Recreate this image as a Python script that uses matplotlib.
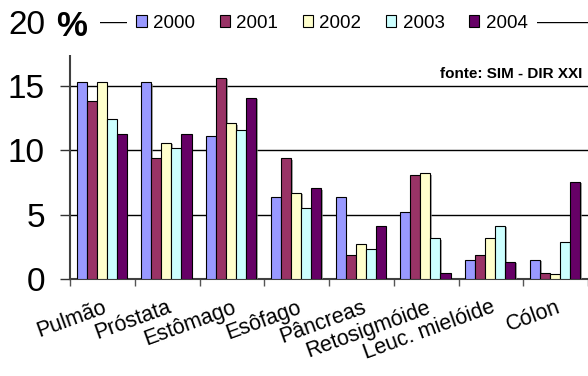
import numpy as np
import matplotlib.pyplot as plt
import matplotlib.patheffects as pe
from matplotlib.patches import Patch, Rectangle

plt.rcParams['font.family'] = ['Liberation Sans', 'DejaVu Sans']

# Cancer incidence share (%) per site and year
sites = ['Pulmão', 'Próstata', 'Estômago', 'Esôfago', 'Pâncreas',
         'Retosigmóide', 'Leuc. mielóide', 'Cólon']
years = ['2000', '2001', '2002', '2003', '2004']

v2000 = [15.3, 15.3, 11.1, 6.4, 6.4, 5.2, 1.5, 1.5]
v2001 = [13.8, 9.4, 15.65, 9.4, 1.85, 8.05, 1.85, 0.5]
v2002 = [15.3, 10.6, 12.1, 6.7, 2.7, 8.2, 3.15, 0.35]
v2003 = [12.4, 10.2, 11.6, 5.55, 2.3, 3.15, 4.15, 2.85]
v2004 = [11.25, 11.25, 14.1, 7.05, 4.15, 0.5, 1.35, 7.55]

colors = ['#9999FF', '#993366', '#FFFFCC', '#CCFFFF', '#660066']
series = [v2000, v2001, v2002, v2003, v2004]

fig = plt.figure(figsize=(5.88, 3.76), dpi=100)
ax = fig.add_axes([70 / 588, 97 / 376, 518 / 588, 257.4 / 376])

x = np.arange(len(sites))
w = 0.1546
shadow = [pe.SimplePatchShadow(offset=(1.2, -1.2), shadow_rgbFace='#808080', alpha=0.7),
          pe.Normal()]
for k, (vals, col) in enumerate(zip(series, colors)):
    bars = ax.bar(x + (k - 2) * w - 0.01, vals, width=w, color=col,
                  edgecolor='black', linewidth=0.8, zorder=3)
    for b in bars:
        b.set_path_effects(shadow)

ax.set_xlim(-0.5, len(sites) - 0.5)
ax.set_ylim(0, 20)
ax.set_yticks([0, 5, 10, 15, 20])
ax.set_yticklabels(['0', '5', '10', '15', '20'])
ax.tick_params(axis='y', direction='out', length=7, width=1, pad=11,
               labelsize=24, color='#333333')
ax.yaxis.grid(True, color='black', linewidth=1, zorder=0)

ax.set_xticks(x)
ax.set_xticklabels(sites, rotation=20, ha='right', rotation_mode='anchor')
ax.tick_params(axis='x', which='major', length=0, pad=13, labelsize=15.5)
ax.set_xticks(np.arange(-0.5, len(sites)), minor=True)
ax.tick_params(axis='x', which='minor', direction='out', length=5, width=1,
               color='#555555')

for s in ['top', 'right']:
    ax.spines[s].set_visible(False)
for s in ['left', 'bottom']:
    ax.spines[s].set_color('#404040')
    ax.spines[s].set_linewidth(1.5)

# white block behind the axis title hides the top of the spine
fig.add_artist(Rectangle((48 / 588, 1 - 55 / 376), 52 / 588, 55 / 376,
                         transform=fig.transFigure, facecolor='white',
                         edgecolor='none', zorder=5))
fig.text(72 / 588, 1 - 27 / 376, '%', fontsize=25, fontweight='bold',
         ha='center', va='center', zorder=6)

handles = [Patch(facecolor=c, edgecolor='black', linewidth=0.8) for c in colors]
leg = ax.legend(handles, years, ncol=5, loc='center',
                bbox_to_anchor=(332 / 588, 1 - 23 / 376),
                bbox_transform=fig.transFigure, fontsize=13.5,
                handlelength=0.55, handleheight=0.55, handletextpad=0.35,
                columnspacing=1.3, borderpad=0.5, borderaxespad=0,
                frameon=True, fancybox=False, framealpha=1)
leg.get_frame().set_edgecolor('none')
leg.set_zorder(6)

ax.text(582 / 588, 1 - 74 / 376, 'fonte: SIM - DIR XXI', transform=fig.transFigure,
        fontsize=11, fontweight='bold', ha='right', va='center', zorder=6)

fig.savefig('out.png', dpi=100)
